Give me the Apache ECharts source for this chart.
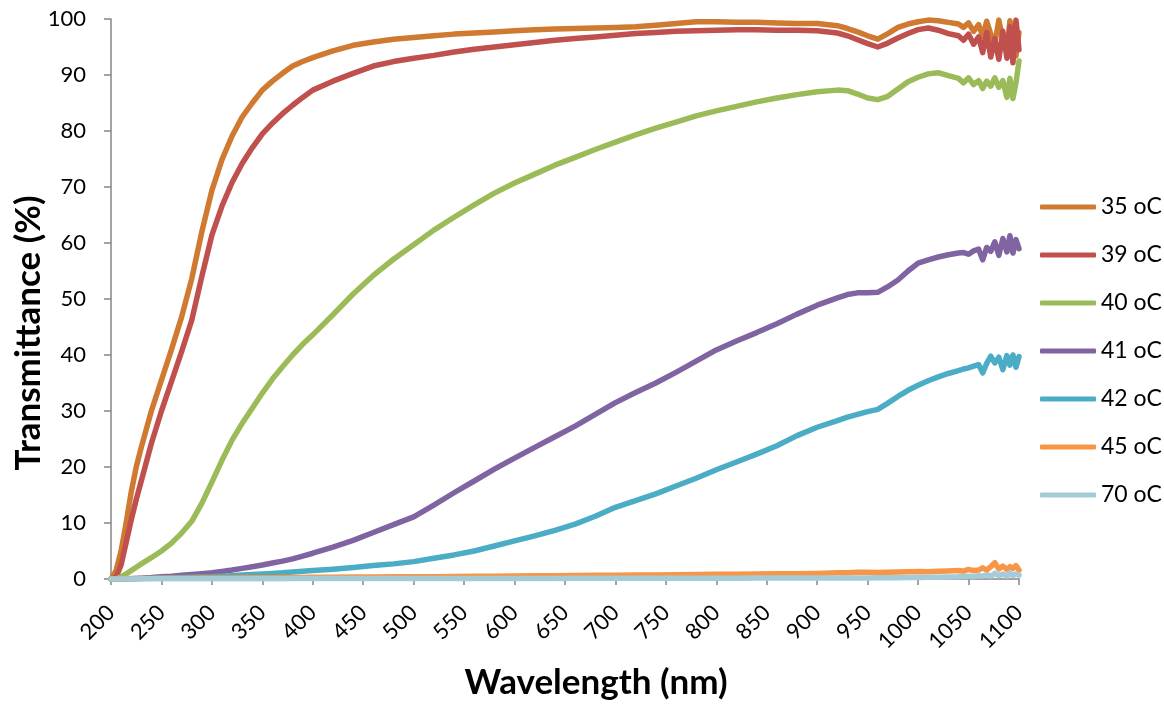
<!DOCTYPE html>
<html>
<head>
<meta charset="utf-8">
<script src="https://cdn.jsdelivr.net/npm/echarts@6/dist/echarts.min.js"></script>
<style>
html,body{margin:0;padding:0;background:#fff;}
#chart{width:1164px;height:704px;}
</style>
</head>
<body>
<div id="chart"></div>
<script>
const wavelengths = [200,205,210,215,220,225,230,240,250,260,270,280,290,300,310,320,330,340,350,360,370,380,390,400,
  420,440,460,480,500,520,540,560,580,600,620,640,660,680,700,720,740,760,780,800,820,840,860,880,900,920,
  930,940,950,960,970,980,990,1000,1010,1020,1030,
  1040,1045,1050,1055,1060,1064,1068,1072,1076,1080,1084,1088,1091,1094,1097,1100];

const t35 = [0,1.5,5,10,15.5,20,23.5,30,35.5,41,46.8,53.6,62,69.4,74.9,79.1,82.5,85,87.3,88.9,90.3,91.6,92.4,93.1,
  94.3,95.3,95.9,96.4,96.7,97.0,97.3,97.5,97.7,97.9,98.1,98.2,98.3,98.4,98.5,98.6,98.9,99.2,99.5,99.5,99.4,99.4,99.3,99.2,99.2,98.8,
  98.3,97.7,97.0,96.4,97.4,98.5,99.1,99.5,99.8,99.7,99.4,
  99.1,98.5,99.3,97.8,99.0,96.9,99.6,97.3,95.6,99.8,96.3,94.2,99.7,95.1,93.4,97.6];

const t39 = [0,0.3,2.5,6.5,10.5,14.2,17.5,24.2,30,35.3,40.6,46.2,54.0,61.4,66.6,70.8,74.2,77.0,79.5,81.4,83.1,84.6,86.0,87.3,
  88.9,90.3,91.6,92.4,93.0,93.5,94.1,94.6,95.0,95.4,95.8,96.2,96.5,96.8,97.1,97.4,97.6,97.8,97.9,98.0,98.1,98.1,98.0,98.0,97.9,97.5,
  97.0,96.3,95.6,95.0,95.7,96.6,97.4,98.1,98.4,98.0,97.4,
  97.0,96.2,97.3,95.5,96.8,94.0,97.6,93.2,96.5,92.8,97.8,93.0,98.6,92.2,99.8,94.5];

const t40 = [0,0,0.4,0.9,1.5,2.1,2.7,3.8,5.0,6.4,8.2,10.3,13.5,17.3,21.2,24.8,27.8,30.5,33.2,35.7,37.9,40.0,41.9,43.6,
  47.2,50.9,54.2,57.1,59.7,62.3,64.6,66.8,68.9,70.7,72.3,73.9,75.3,76.7,78.0,79.3,80.5,81.6,82.7,83.6,84.4,85.2,85.9,86.5,87.0,87.3,
  87.2,86.6,85.9,85.6,86.2,87.5,88.8,89.6,90.2,90.4,89.9,
  89.4,88.6,89.5,88.3,89.0,87.6,88.9,88.0,89.5,87.8,89.0,86.0,89.4,85.8,88.6,92.5];

const t41 = [0,0,0,0,0.05,0.1,0.15,0.25,0.4,0.5,0.65,0.8,0.95,1.1,1.35,1.6,1.9,2.2,2.5,2.85,3.2,3.6,4.1,4.6,
  5.7,6.9,8.3,9.7,11.1,13.2,15.4,17.5,19.6,21.6,23.5,25.4,27.3,29.4,31.5,33.3,35.0,36.9,38.9,40.9,42.5,44.0,45.6,47.3,48.9,50.2,
  50.8,51.1,51.1,51.2,52.2,53.4,55.0,56.4,57.0,57.5,57.9,
  58.2,58.3,58.0,58.6,58.9,57.0,59.2,58.5,60.2,57.8,60.8,58.4,61.3,58.2,60.6,59.0];

const t42 = [0,0,0,0,0.02,0.05,0.08,0.12,0.2,0.22,0.26,0.3,0.35,0.4,0.5,0.6,0.7,0.8,0.9,1.0,1.1,1.25,1.4,1.5,
  1.75,2.05,2.4,2.7,3.1,3.7,4.3,5.0,5.9,6.8,7.7,8.7,9.8,11.2,12.8,14.0,15.2,16.6,18.0,19.5,20.9,22.3,23.8,25.6,27.1,28.3,
  28.9,29.4,29.9,30.3,31.4,32.6,33.7,34.6,35.4,36.1,36.7,
  37.2,37.5,37.7,38.0,38.3,36.8,38.5,39.8,38.6,39.6,37.4,39.9,38.2,40.0,37.8,39.7];

const t45 = [0,0,0.05,0.05,0.08,0.08,0.1,0.1,0.12,0.13,0.14,0.15,0.16,0.18,0.19,0.2,0.21,0.22,0.23,0.24,0.25,0.27,0.28,0.3,
  0.32,0.34,0.36,0.38,0.4,0.42,0.45,0.48,0.5,0.53,0.56,0.59,0.62,0.65,0.68,0.7,0.72,0.75,0.8,0.85,0.85,0.9,0.95,0.95,1.0,1.1,
  1.1,1.2,1.2,1.15,1.2,1.25,1.3,1.35,1.3,1.4,1.45,
  1.5,1.4,1.7,1.5,1.6,2.0,1.6,2.2,2.9,1.8,2.3,1.7,2.2,1.9,2.4,1.6];

const t70 = [0,0,0,0,0.02,0.02,0.03,0.03,0.04,0.04,0.05,0.05,0.05,0.05,0.05,0.05,0.06,0.06,0.06,0.06,0.06,0.07,0.07,0.07,
  0.07,0.08,0.08,0.08,0.09,0.09,0.1,0.1,0.1,0.1,0.11,0.11,0.12,0.12,0.12,0.13,0.13,0.14,0.14,0.15,0.15,0.16,0.16,0.17,0.18,0.19,
  0.2,0.2,0.2,0.21,0.22,0.24,0.26,0.28,0.3,0.33,0.36,
  0.4,0.45,0.5,0.45,0.6,0.5,0.8,0.5,1.0,0.6,0.9,0.5,1.1,0.6,0.9,0.7];

const seriesNames = ['35 oC','39 oC','40 oC','41 oC','42 oC','45 oC','70 oC'];
const seriesValues = [t35, t39, t40, t41, t42, t45, t70];
const seriesColors = ['#CF7A30','#C0504D','#9BBB59','#8064A2','#4BACC6','#F79646','#A5CAD8'];

const xTitle = 'Wavelength (nm)';
const yTitle = 'Transmittance (%)';

const FONT = 'Lato';
const axisGray = '#868686';

const chart = echarts.init(document.getElementById('chart'), null, {renderer:'canvas'});
chart.setOption({
  animation: false,
  backgroundColor: '#ffffff',
  textStyle: {fontFamily: FONT},
  grid: {left: 111, right: 145, top: 19, bottom: 125, containLabel: false, outerBoundsMode: 'none'},
  graphic: [{
    type: 'text',
    x: 29, y: 333,
    rotation: Math.PI / 2,
    silent: true,
    style: {
      text: yTitle,
      fontFamily: FONT, fontSize: 35, fontWeight: 'bold',
      fill: '#000',
      align: 'center', verticalAlign: 'middle'
    }
  }],
  legend: {
    orient: 'vertical',
    left: 1035,
    top: 190,
    icon: 'roundRect',
    itemWidth: 56,
    itemHeight: 5,
    itemGap: 24,
    data: seriesNames,
    textStyle: {fontFamily: FONT, fontSize: 23, color: '#000', lineHeight: 24}
  },
  xAxis: {
    type: 'value',
    min: 200, max: 1100, interval: 50,
    name: xTitle,
    nameLocation: 'middle',
    nameGap: 86,
    nameTextStyle: {fontFamily: FONT, fontSize: 35, fontWeight: 'bold', color: '#000', padding: [0,0,0,62]},
    splitLine: {show: false},
    axisLine: {show: true, lineStyle: {color: axisGray, width: 1.5}},
    axisTick: {show: true, length: 6, lineStyle: {color: axisGray, width: 1.5}},
    axisLabel: {rotate: 45, margin: 30, fontFamily: FONT, fontSize: 22, color: '#000',
      formatter: v => String(v)}
  },
  yAxis: {
    type: 'value',
    min: 0, max: 100, interval: 10,
    splitLine: {show: false},
    axisLine: {show: true, lineStyle: {color: axisGray, width: 1.5}},
    axisTick: {show: true, length: 7, lineStyle: {color: axisGray, width: 1.5}},
    axisLabel: {margin: 25, fontFamily: FONT, fontSize: 22, color: '#000'}
  },
  series: seriesNames.map((n, k) => ({
    name: n,
    type: 'line',
    showSymbol: false,
    symbol: 'none',
    color: seriesColors[k],
    lineStyle: {width: 5.5, color: seriesColors[k], cap: 'round', join: 'round'},
    data: wavelengths.map((w, i) => [w, seriesValues[k][i]])
  }))
});
</script>
</body>
</html>
